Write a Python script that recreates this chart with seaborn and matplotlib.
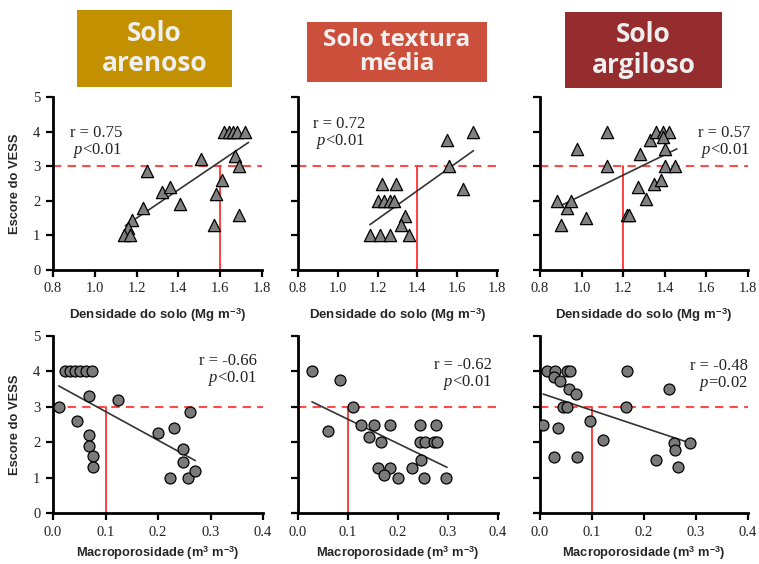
import matplotlib
matplotlib.use("Agg")
import matplotlib.pyplot as plt
from matplotlib.patches import Rectangle
import seaborn as sns
import pandas as pd

# ---------------- data ----------------
# Densidade do solo vs Escore do VESS
dens_arenoso_x = [1.62, 1.64, 1.66, 1.68, 1.72, 1.51, 1.67, 1.69, 1.25, 1.61, 1.58, 1.32, 1.36,
                  1.41, 1.23, 1.18, 1.69, 1.57, 1.16, 1.14, 1.17]
dens_arenoso_y = [4.0, 4.0, 4.0, 4.0, 4.0, 3.2, 3.3, 3.0, 2.85, 2.6, 2.2, 2.25, 2.4,
                  1.9, 1.8, 1.45, 1.6, 1.3, 1.2, 1.0, 1.0]
dens_media_x = [1.68, 1.55, 1.56, 1.63, 1.22, 1.29, 1.20, 1.23, 1.26, 1.28, 1.34, 1.32,
                1.16, 1.21, 1.26, 1.36]
dens_media_y = [4.0, 3.75, 3.0, 2.35, 2.5, 2.5, 2.0, 2.0, 2.0, 2.0, 1.55, 1.3,
                1.0, 1.0, 1.0, 1.0]
dens_argiloso_x = [0.88, 0.90, 0.93, 0.95, 0.98, 1.02, 1.12, 1.12, 1.22, 1.23, 1.27, 1.28,
                   1.31, 1.33, 1.35, 1.38, 1.36, 1.39, 1.42, 1.39, 1.40, 1.40, 1.45]
dens_argiloso_y = [2.0, 1.3, 1.8, 2.0, 3.5, 1.5, 4.0, 3.0, 1.6, 1.6, 2.4, 3.35,
                   2.05, 3.75, 2.5, 2.6, 4.0, 4.0, 4.0, 3.85, 3.5, 3.0, 3.0]

# Macroporosidade vs Escore do VESS
macro_arenoso_x = [0.012, 0.022, 0.032, 0.042, 0.052, 0.062, 0.074, 0.068, 0.124, 0.046, 0.068,
                   0.068, 0.077, 0.077, 0.260, 0.200, 0.230, 0.248, 0.247, 0.223, 0.258, 0.270]
macro_arenoso_y = [3.0, 4.0, 4.0, 4.0, 4.0, 4.0, 4.0, 3.3, 3.2, 2.6, 2.2,
                   1.9, 1.6, 1.3, 2.85, 2.27, 2.4, 1.82, 1.45, 1.0, 1.0, 1.2]
macro_media_x = [0.028, 0.084, 0.110, 0.060, 0.126, 0.151, 0.184, 0.142, 0.166, 0.159, 0.183,
                 0.171, 0.199, 0.227, 0.246, 0.251, 0.296, 0.244, 0.276, 0.244, 0.254, 0.271, 0.278]
macro_media_y = [4.0, 3.75, 3.0, 2.33, 2.5, 2.5, 2.5, 2.14, 2.0, 1.27, 1.27,
                 1.08, 1.0, 1.27, 1.5, 1.0, 1.0, 2.5, 2.5, 2.0, 2.0, 2.0, 2.0]
macro_argiloso_x = [0.013, 0.029, 0.051, 0.057, 0.027, 0.039, 0.055, 0.069, 0.045, 0.051, 0.006,
                    0.035, 0.096, 0.121, 0.026, 0.072, 0.167, 0.166, 0.249, 0.223, 0.257,
                    0.259, 0.266, 0.289]
macro_argiloso_y = [4.0, 4.0, 4.0, 4.0, 3.85, 3.73, 3.5, 3.36, 3.0, 3.0, 2.5,
                    2.4, 2.59, 2.05, 1.59, 1.59, 4.0, 3.0, 3.5, 1.49, 1.98,
                    1.79, 1.30, 1.98]

# fitted regression lines as drawn in the figure (start/end x and y)
fit_dens_x = [[1.146, 1.736], [1.161, 1.682], [0.893, 1.458]]
fit_dens_y = [[1.28, 3.69], [1.31, 3.45], [1.84, 3.50]]
fit_macro_x = [[0.011, 0.271], [0.028, 0.298], [0.006, 0.288]]
fit_macro_y = [[3.59, 1.48], [3.14, 1.29], [3.36, 1.98]]

titles = ["Solo\narenoso", "Solo textura\nmédia", "Solo\nargiloso"]
title_colors = ["#C29000", "#CB4F3A", "#952C2E"]
stats_top = ["r = 0.75\n$p$<0.01", "r = 0.72\n$p$<0.01", "r = 0.57\n$p$<0.01"]
stats_bottom = ["r = -0.66\n$p$<0.01", "r = -0.62\n$p$<0.01", "r = -0.48\n$p$=0.02"]
crit_dens = [1.6, 1.4, 1.2]
crit_macro = 0.1
vess_limit = 3
dens_ticks = [0.8, 1.0, 1.2, 1.4, 1.6, 1.8]
macro_ticks = [0.0, 0.1, 0.2, 0.3, 0.4]
vess_ticks = [0, 1, 2, 3, 4, 5]
xlabel_top = "Densidade do solo (Mg m$^{\\mathregular{-3}}$)"
xlabel_bottom = "Macroporosidade (m$^{\\mathregular{3}}$ m$^{\\mathregular{-3}}$)"
ylabel = "Escore do VESS"

# ---------------- style ----------------
sns.set_theme(style="ticks")
plt.rcParams["font.family"] = ["Liberation Serif", "DejaVu Serif"]
plt.rcParams["mathtext.fontset"] = "custom"
plt.rcParams["mathtext.it"] = "Liberation Serif:italic"
plt.rcParams["mathtext.rm"] = "Liberation Serif"
LAB_FAMILY = ["Liberation Sans", "DejaVu Sans"]

fig = plt.figure(figsize=(7.59, 5.64), dpi=100)
W, H = 759, 564
top_pos = [(53, 209), (298, 199), (540, 208)]
bot_pos = [(53, 210), (298, 200), (540, 208)]


def make_ax(left, width, y0, y5):
    return fig.add_axes([left / W, (H - y0) / H, width / W, (y0 - y5) / H])


dens_sets = [(dens_arenoso_x, dens_arenoso_y), (dens_media_x, dens_media_y),
             (dens_argiloso_x, dens_argiloso_y)]
macro_sets = [(macro_arenoso_x, macro_arenoso_y), (macro_media_x, macro_media_y),
              (macro_argiloso_x, macro_argiloso_y)]


def style_ax(ax, show_ylab):
    sns.despine(ax=ax)
    for s in ["left", "bottom"]:
        ax.spines[s].set_linewidth(2.0)
        ax.spines[s].set_color("black")
    ax.tick_params(axis="both", direction="out", length=5, width=1.6, color="black",
                   labelsize=10.5, pad=4, labelcolor="#222222")
    ax.set_ylim(0, 5)
    ax.set_yticks(vess_ticks)
    if not show_ylab:
        ax.set_yticklabels([])
    ax.set_facecolor("white")


def draw_panel(ax, x, y, fx, fy, crit, marker, size, fcolor):
    df = pd.DataFrame({"x": x, "y": y})
    fit = pd.DataFrame({"x": fx, "y": fy})
    ax.axhline(vess_limit, color="#FF4A4A", lw=1.5, ls=(0, (4, 3)), zorder=1)
    ax.plot([crit, crit], [0, vess_limit], color="#FF3030", lw=1.3, zorder=1)
    sns.lineplot(data=fit, x="x", y="y", ax=ax, color="#333333", lw=1.2, zorder=2)
    sns.scatterplot(data=df, x="x", y="y", ax=ax, marker=marker, s=size, color=fcolor,
                    edgecolor="black", linewidth=0.9, zorder=3, legend=False)


for i in range(3):
    # top row
    ax = make_ax(top_pos[i][0], top_pos[i][1], 270, 97)
    x, y = dens_sets[i]
    draw_panel(ax, x, y, fit_dens_x[i], fit_dens_y[i], crit_dens[i], "^", 78, "#808080")
    ax.set_xlim(0.8, 1.8)
    ax.set_xticks(dens_ticks)
    ax.set_xticklabels([f"{v:.1f}" for v in dens_ticks])
    style_ax(ax, i == 0)
    ax.set_xlabel(xlabel_top, family=LAB_FAMILY, fontweight="bold", fontsize=9.5, labelpad=8)
    ax.set_ylabel(ylabel if i == 0 else "", family=LAB_FAMILY, fontweight="bold",
                  fontsize=9.3, labelpad=9)
    if i == 0:
        ax.text(0.08, 0.84, stats_top[i], transform=ax.transAxes, ha="left", va="top",
                fontsize=12, color="#222222", linespacing=1.0, multialignment="right")
    elif i == 1:
        ax.text(0.075, 0.89, stats_top[i], transform=ax.transAxes, ha="left", va="top",
                fontsize=12, color="#222222", linespacing=1.0, multialignment="right")
    else:
        ax.text(1.01, 0.84, stats_top[i], transform=ax.transAxes, ha="right", va="top",
                fontsize=12, color="#222222", linespacing=1.0, multialignment="right")

    # bottom row
    ax = make_ax(bot_pos[i][0], bot_pos[i][1], 513, 336)
    x, y = macro_sets[i]
    draw_panel(ax, x, y, fit_macro_x[i], fit_macro_y[i], crit_macro, "o", 62, "#7a7a7a")
    ax.set_xlim(0, 0.4)
    ax.set_xticks(macro_ticks)
    ax.set_xticklabels([f"{v:.1f}" for v in macro_ticks])
    style_ax(ax, i == 0)
    ax.set_xlabel(xlabel_bottom, family=LAB_FAMILY, fontweight="bold", fontsize=9.3, labelpad=4)
    ax.set_ylabel(ylabel if i == 0 else "", family=LAB_FAMILY, fontweight="bold",
                  fontsize=9.3, labelpad=9)
    ypos = [0.905, 0.88, 0.875][i]
    ax.text(0.97 if i < 2 else 1.0, ypos, stats_bottom[i], transform=ax.transAxes,
            ha="right", va="top", fontsize=12, color="#222222", linespacing=1.0,
            multialignment="right")

# ---------------- title boxes ----------------
boxes = [(77, 232, 10, 87), (307, 487, 22, 82), (565, 722, 12, 88)]
tsizes = [19, 17.5, 19]
tspacing = [1.15, 1.05, 1.15]
for (x0, x1, y0, y1), t, c, fs, ls in zip(boxes, titles, title_colors, tsizes, tspacing):
    fig.patches.append(Rectangle((x0 / W, (H - y1) / H), (x1 - x0) / W, (y1 - y0) / H,
                                 transform=fig.transFigure, facecolor=c, edgecolor="none"))
    fig.text((x0 + x1) / 2 / W, (H - (y0 + y1) / 2) / H, t, ha="center", va="center",
             fontsize=fs, fontweight="bold", color="#EFEFEF",
             family=["Open Sans", "DejaVu Sans"], linespacing=ls)

fig.savefig("out.png", dpi=100, facecolor="white")
